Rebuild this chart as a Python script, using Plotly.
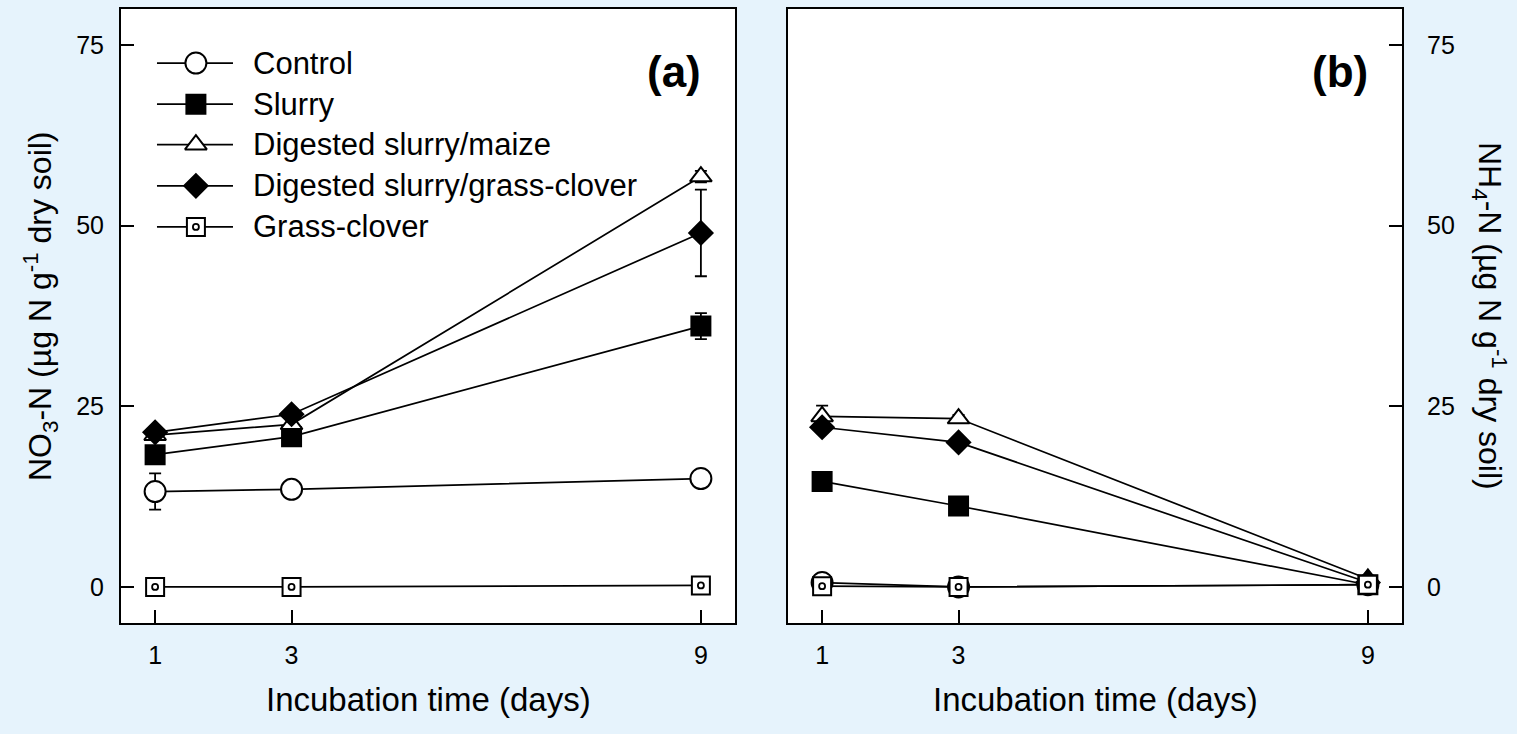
import plotly.graph_objects as go

# ---------------- data ----------------
days = [1, 3, 9]
series_names = ["Control", "Slurry", "Digested slurry/maize",
                "Digested slurry/grass-clover", "Grass-clover"]

no3_control = [13.2, 13.5, 15.0]
no3_slurry = [18.3, 20.8, 36.1]
no3_maize = [21.0, 22.5, 56.8]
no3_gc = [21.4, 23.9, 49.0]
no3_grass = [0.0, 0.0, 0.2]

no3_control_err = [2.5, 0.5, 0.5]
no3_slurry_err = [1.0, 0.8, 1.8]
no3_maize_err = [0.5, 0.8, 0.8]
no3_gc_err = [0.5, 0.5, 6.0]
no3_grass_err = [0.1, 0.1, 0.1]

nh4_control = [0.6, 0.0, 0.3]
nh4_slurry = [14.6, 11.2, 0.3]
nh4_maize = [23.6, 23.3, 1.1]
nh4_gc = [22.1, 20.0, 0.6]
nh4_grass = [0.1, 0.0, 0.3]

nh4_control_err = [0.3, 0.1, 0.1]
nh4_slurry_err = [0.5, 0.5, 0.1]
nh4_maize_err = [1.5, 0.5, 0.2]
nh4_gc_err = [0.5, 0.5, 0.2]
nh4_grass_err = [0.1, 0.1, 0.1]

x_ticks = [1, 3, 9]
y_ticks = [0, 25, 50, 75]

# ---------------- styles ----------------
W, H = 1517, 734
BG = "#E6F3FC"
FONT = "Liberation Sans, Arial, sans-serif"

styles = [
    dict(symbol="circle", size=21, color="white"),
    dict(symbol="square", size=19, color="black"),
    dict(symbol="triangle-up", size=19, color="white"),
    dict(symbol="diamond", size=18, color="black"),
    dict(symbol="square", size=18, color="white"),
]
DOT_INDEX = 4  # grass-clover: square with a small ring in the centre

no3 = [no3_control, no3_slurry, no3_maize, no3_gc, no3_grass]
no3_err = [no3_control_err, no3_slurry_err, no3_maize_err, no3_gc_err, no3_grass_err]
nh4 = [nh4_control, nh4_slurry, nh4_maize, nh4_gc, nh4_grass]
nh4_err = [nh4_control_err, nh4_slurry_err, nh4_maize_err, nh4_gc_err, nh4_grass_err]

fig = go.Figure()


def add_dot(xa, ya, xs, ys):
    fig.add_trace(go.Scatter(
        x=xs, y=ys, mode="markers", xaxis=xa, yaxis=ya,
        showlegend=False, hoverinfo="skip", cliponaxis=False,
        marker=dict(symbol="circle", size=6, color="white",
                    line=dict(color="black", width=1.8))))


def add_series(xa, ya, ys, es, st, name, dot=False):
    fig.add_trace(go.Scatter(
        x=days, y=ys, mode="lines+markers", name=name,
        xaxis=xa, yaxis=ya, showlegend=False, cliponaxis=False,
        line=dict(color="black", width=1.7),
        marker=dict(symbol=st["symbol"], size=st["size"], color=st["color"],
                    line=dict(color="black", width=2)),
        error_y=dict(type="data", array=es, visible=True, color="black",
                     thickness=1.8, width=6),
    ))
    if dot:
        add_dot(xa, ya, days, ys)


for i, name in enumerate(series_names):
    add_series("x", "y", no3[i], no3_err[i], styles[i], name, i == DOT_INDEX)
for i, name in enumerate(series_names):
    add_series("x2", "y2", nh4[i], nh4_err[i], styles[i], name, i == DOT_INDEX)

# ---------------- manual legend (overlay axes on panel a) ----------------
leg_x0, leg_xm, leg_x1, leg_tx = 0.0586, 0.122, 0.1824, 0.212
leg_rows = [0.912, 0.845, 0.779, 0.712, 0.645]
for i, name in enumerate(series_names):
    st = styles[i]
    fig.add_trace(go.Scatter(
        x=[leg_x0, leg_x1], y=[leg_rows[i], leg_rows[i]], mode="lines",
        xaxis="x3", yaxis="y3", showlegend=False, hoverinfo="skip",
        line=dict(color="black", width=1.7)))
    fig.add_trace(go.Scatter(
        x=[leg_xm], y=[leg_rows[i]], mode="markers",
        xaxis="x3", yaxis="y3", showlegend=False, hoverinfo="skip",
        marker=dict(symbol=st["symbol"], size=st["size"], color=st["color"],
                    line=dict(color="black", width=2))))
    if i == DOT_INDEX:
        add_dot("x3", "y3", [leg_xm], [leg_rows[i]])
    fig.add_annotation(x=leg_tx, y=leg_rows[i], xref="x3", yref="y3",
                       text=name, showarrow=False, xanchor="left",
                       yanchor="middle",
                       font=dict(family=FONT, size=31, color="black"))

# ---------------- layout ----------------
xa_dom = [121 / W, 735 / W]
xb_dom = [788 / W, 1402 / W]
y_dom = [1 - 623 / H, 1 - 9 / H]

axis_common = dict(
    showline=True, linecolor="black", linewidth=2, mirror=True,
    ticks="inside", ticklen=13, tickwidth=1.8, tickcolor="black",
    showgrid=False, zeroline=False,
    tickfont=dict(family=FONT, size=25, color="black"),
)

fig.update_layout(
    width=W, height=H,
    margin=dict(l=0, r=0, t=0, b=0),
    paper_bgcolor=BG, plot_bgcolor="white",
    showlegend=False,
    xaxis=dict(domain=xa_dom, range=[0.5, 9.5], tickvals=x_ticks,
               anchor="y", ticklabelstandoff=9, **axis_common),
    yaxis=dict(domain=y_dom, range=[-5, 80], tickvals=y_ticks,
               anchor="x", ticklabelstandoff=10, **axis_common),
    xaxis2=dict(domain=xb_dom, range=[0.5, 9.5], tickvals=x_ticks,
                anchor="y2", ticklabelstandoff=9, **axis_common),
    yaxis2=dict(domain=y_dom, range=[-5, 80], tickvals=y_ticks,
                anchor="x2", side="right", ticklabelstandoff=18, **axis_common),
    xaxis3=dict(overlaying="x", range=[0, 1], visible=False),
    yaxis3=dict(overlaying="y", range=[0, 1], visible=False),
)

# panel labels
fig.add_annotation(x=674 / W, y=1 - 71 / H, xref="paper", yref="paper",
                   text="<b>(a)</b>", showarrow=False,
                   xanchor="center", yanchor="middle",
                   font=dict(family=FONT, size=44, color="black"))
fig.add_annotation(x=1340 / W, y=1 - 71 / H, xref="paper", yref="paper",
                   text="<b>(b)</b>", showarrow=False,
                   xanchor="center", yanchor="middle",
                   font=dict(family=FONT, size=44, color="black"))

# axis titles
fig.add_annotation(x=428 / W, y=1 - 699 / H, xref="paper", yref="paper",
                   text="Incubation time (days)", showarrow=False,
                   xanchor="center", yanchor="middle",
                   font=dict(family=FONT, size=33, color="black"))
fig.add_annotation(x=1095 / W, y=1 - 699 / H, xref="paper", yref="paper",
                   text="Incubation time (days)", showarrow=False,
                   xanchor="center", yanchor="middle",
                   font=dict(family=FONT, size=33, color="black"))
fig.add_annotation(x=40 / W, y=1 - 306 / H, xref="paper", yref="paper",
                   text="NO<sub>3</sub>-N (µg N g<sup>-1</sup> dry soil)",
                   showarrow=False, textangle=-90,
                   xanchor="center", yanchor="middle",
                   font=dict(family=FONT, size=32, color="black"))
fig.add_annotation(x=1489 / W, y=1 - 316 / H, xref="paper", yref="paper",
                   text="NH<sub>4</sub>-N (µg N g<sup>-1</sup> dry soil)",
                   showarrow=False, textangle=90,
                   xanchor="center", yanchor="middle",
                   font=dict(family=FONT, size=32, color="black"))

fig.write_html("out.html")
